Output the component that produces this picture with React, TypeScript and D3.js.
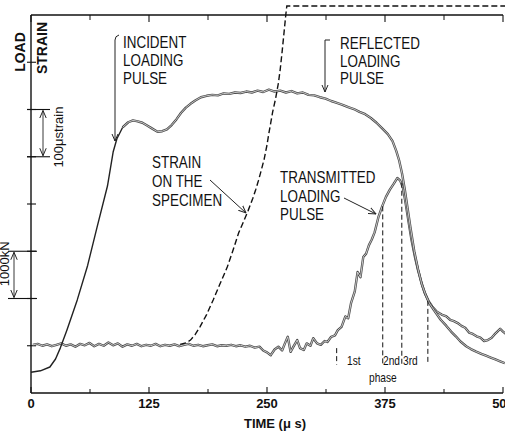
import React from 'react';
import * as d3 from 'd3';

// ---- axis data ----
const xTicksMajor = [0, 125, 250, 375, 500];
const xTickLabels = ['0', '125', '250', '375', '500'];
const xTicksMinor = [62.5, 187.5, 312.5, 437.5];
const yTicks = [1, 2, 3, 4, 5, 6, 7];
const strainBar = [5, 6];
const loadBar = [2, 3];

// ---- incident + reflected loading pulse (time µs, divisions) ----
const incidentT = [0, 10, 20, 26, 31, 38, 49, 60, 70, 81, 87, 91, 97, 103, 108, 113, 118, 123, 128, 134, 139, 144, 149, 154, 159, 164, 169, 174, 180, 186, 192, 198, 204, 210, 216, 222, 228, 234, 240, 246, 252, 258, 264, 270, 276, 282, 288, 294, 300, 306, 312, 318, 324, 330, 336, 342, 348, 354, 360, 366, 372, 378, 383, 387, 390, 393, 396, 399, 402, 406, 410, 414, 418, 422, 427, 434, 440, 445, 450, 455, 461, 466, 471, 477, 482, 487, 492, 497, 502];
const incidentV = [0.44, 0.47, 0.55, 0.72, 0.95, 1.33, 1.97, 2.70, 3.51, 4.38, 5.10, 5.38, 5.62, 5.73, 5.77, 5.75, 5.72, 5.66, 5.60, 5.53, 5.54, 5.58, 5.67, 5.79, 5.93, 6.04, 6.12, 6.19, 6.26, 6.29, 6.31, 6.30, 6.34, 6.33, 6.36, 6.35, 6.38, 6.36, 6.40, 6.37, 6.42, 6.38, 6.40, 6.36, 6.39, 6.34, 6.36, 6.31, 6.30, 6.26, 6.23, 6.18, 6.14, 6.10, 6.05, 6.01, 5.95, 5.90, 5.82, 5.72, 5.60, 5.48, 5.33, 5.12, 4.92, 4.65, 4.30, 3.90, 3.50, 3.00, 2.62, 2.30, 2.08, 1.90, 1.75, 1.55, 1.42, 1.30, 1.20, 1.09, 0.99, 0.93, 0.88, 0.83, 0.79, 0.75, 0.71, 0.67, 0.63];

// ---- transmitted loading pulse ----
const transT = [2, 7, 12, 17, 22, 27, 32, 37, 42, 47, 52, 57, 62, 67, 72, 77, 82, 87, 92, 97, 102, 107, 112, 117, 122, 127, 132, 137, 142, 147, 152, 157, 162, 167, 172, 177, 182, 187, 192, 197, 202, 207, 212, 217, 222, 227, 232, 237, 242, 246, 250, 254, 258, 262, 266, 269, 272, 275, 278, 282, 285, 289, 292, 296, 299, 303, 307, 311, 314, 318, 322, 325, 329, 333, 336, 339, 343, 346, 349, 352, 355, 358, 361, 364, 368, 372, 376, 380, 384, 388, 391, 394, 397, 400, 403, 407, 410, 413, 417, 421, 425, 430, 435, 440, 444, 448, 452, 456, 460, 464, 468, 472, 476, 480, 484, 488, 491, 494, 497, 500, 503];
const transV = [1.02, 1.04, 1.00, 1.03, 0.99, 1.02, 1.05, 1.00, 1.03, 0.98, 1.04, 1.01, 1.06, 0.99, 1.04, 1.00, 1.07, 1.01, 1.05, 0.98, 1.03, 1.00, 1.04, 0.99, 1.02, 1.00, 1.04, 0.99, 1.02, 1.00, 1.03, 0.99, 1.02, 1.04, 1.00, 1.02, 0.99, 1.01, 1.03, 0.99, 1.01, 1.00, 1.02, 0.99, 1.01, 0.98, 1.00, 0.96, 0.98, 0.90, 0.86, 0.80, 0.92, 0.98, 0.90, 1.05, 1.19, 0.87, 0.98, 1.12, 0.95, 0.91, 1.05, 1.00, 1.16, 1.05, 1.02, 1.10, 1.08, 1.19, 1.22, 1.33, 1.40, 1.62, 1.58, 1.90, 2.15, 2.56, 2.45, 2.88, 2.95, 3.13, 3.25, 3.40, 3.72, 3.95, 4.15, 4.30, 4.42, 4.55, 4.50, 4.35, 4.00, 3.62, 3.25, 2.85, 2.60, 2.38, 2.12, 1.95, 1.83, 1.72, 1.66, 1.62, 1.55, 1.52, 1.48, 1.42, 1.38, 1.28, 1.25, 1.20, 1.17, 1.10, 1.12, 1.17, 1.24, 1.30, 1.36, 1.30, 1.25];

// ---- strain on the specimen (dashed) ----
const strainT = [158, 164, 169, 174, 179, 186, 193, 200, 208, 214, 220, 225, 230, 235, 238, 241, 244, 247, 250, 252, 254, 256, 259, 262, 264, 266, 268, 270, 271, 275, 510];
const strainV = [1.03, 1.06, 1.12, 1.24, 1.40, 1.66, 1.97, 2.30, 2.67, 3.02, 3.39, 3.62, 3.86, 4.12, 4.30, 4.50, 4.72, 4.95, 5.25, 5.50, 5.72, 5.95, 6.22, 6.55, 6.85, 7.22, 7.62, 8.02, 8.19, 8.19, 8.19];

// ---- phase boundaries ----
const phaseT = [323.8, 372.6, 392.8, 420.4];
const phaseTop = [0.95, 3.95, 4.45, 1.95];
const phaseBottom = 0.6;

const FONT = '"Liberation Sans", Arial, Helvetica, sans-serif';

export default function App() {
  const x = d3.scaleLinear().domain([0, 500]).range([31, 503]);
  const y = d3.scaleLinear().domain([0, 8]).range([393, 15]);
  const line = d3.line<[number, number]>().x(d => x(d[0])).y(d => y(d[1]));

  const inc: [number, number][] = incidentT.map((t, i) => [t, incidentV[i]]);
  const incRise = inc.filter(d => d[0] <= 103);
  const incRest = inc.filter(d => d[0] >= 97);
  const trans: [number, number][] = transT.map((t, i) => [t, transV[i]]);
  const strain: [number, number][] = strainT.map((t, i) => [t, strainV[i]]);

  const label = (lines: string[], x0: number, y0: number, dy: number) =>
    lines.map((s, i) => (
      <text key={i} transform={`translate(${x0},${y0 + i * dy}) scale(0.84,1)`} fontSize={16} fill="#111">{s}</text>
    ));

  return (
    <svg width={505} height={432} style={{ position: 'absolute', left: 0, top: 0, background: '#fff' }} fontFamily={FONT}>
      <defs>
        <marker id="ah" viewBox="0 0 8 8" refX="7.5" refY="4" markerWidth="8" markerHeight="8" markerUnits="userSpaceOnUse" orient="auto-start-reverse">
          <path d="M0,0.8 L7.5,4 L0,7.2" fill="none" stroke="#222" strokeWidth={1} />
        </marker>
      </defs>

      {/* axes frame */}
      <line x1={x(0)} x2={x(0)} y1={y(8)} y2={y(0)} stroke="#111" strokeWidth={1.4} />
      <line x1={x(0)} x2={x(500)} y1={y(0)} y2={y(0)} stroke="#111" strokeWidth={1.4} />
      <line x1={x(0)} x2={x(500)} y1={y(8)} y2={y(8)} stroke="#111" strokeWidth={1.4} />

      {xTicksMajor.map((t, i) => (
        <g key={'M' + t}>
          <line x1={x(t)} x2={x(t)} y1={y(0)} y2={y(0) - 6} stroke="#111" strokeWidth={1.1} />
          <line x1={x(t)} x2={x(t)} y1={y(8)} y2={y(8) + 7} stroke="#111" strokeWidth={1.1} />
          <text x={x(t)} y={408} textAnchor="middle" fontSize={13} fontWeight="bold" fill="#111">{xTickLabels[i]}</text>
        </g>
      ))}
      {xTicksMinor.map(t => (
        <g key={'m' + t}>
          <line x1={x(t)} x2={x(t)} y1={y(0)} y2={y(0) - 4} stroke="#111" strokeWidth={1} />
          <line x1={x(t)} x2={x(t)} y1={y(8)} y2={y(8) + 5} stroke="#111" strokeWidth={1} />
        </g>
      ))}
      {yTicks.map(v => (
        <line key={'y' + v} x1={x(0) - 4} x2={x(0) + 5} y1={y(v)} y2={y(v)} stroke="#111" strokeWidth={1.1} />
      ))}

      <text x={275} y={428} textAnchor="middle" fontSize={13} fontWeight="bold" fill="#111">TIME (μ s)</text>
      <text transform={`translate(25,52) rotate(-90)`} textAnchor="middle" fontSize={14} fontWeight="bold" fill="#111">LOAD</text>
      <text transform={`translate(47,48) rotate(-90)`} textAnchor="middle" fontSize={14} fontWeight="bold" fill="#111">STRAIN</text>

      {/* 100 µstrain scale bar */}
      {strainBar.map(v => (
        <line key={'sb' + v} x1={27} x2={50} y1={y(v)} y2={y(v)} stroke="#111" strokeWidth={1.1} />
      ))}
      <line x1={43} x2={43} y1={y(strainBar[1]) + 1} y2={y(strainBar[0]) - 1} stroke="#222" strokeWidth={0.9} markerStart="url(#ah)" markerEnd="url(#ah)" />
      <text transform={`translate(63,${(y(strainBar[0]) + y(strainBar[1])) / 2 + 4}) rotate(-90)`} textAnchor="middle" fontSize={13} fill="#111">100μstrain</text>

      {/* 1000 kN scale bar */}
      {loadBar.map(v => (
        <line key={'lb' + v} x1={8} x2={37} y1={y(v)} y2={y(v)} stroke="#111" strokeWidth={1.1} />
      ))}
      <line x1={14} x2={14} y1={y(loadBar[1]) + 1} y2={y(loadBar[0]) - 1} stroke="#222" strokeWidth={0.9} markerStart="url(#ah)" markerEnd="url(#ah)" />
      <text transform={`translate(9,${(y(loadBar[0]) + y(loadBar[1])) / 2 - 11}) rotate(-90)`} textAnchor="middle" fontSize={13} fill="#111">1000kN</text>

      {/* curves */}
      <path d={line(trans) || ''} fill="none" stroke="#4a4a4a" strokeWidth={2.4} strokeLinejoin="round" />
      <path d={line(trans) || ''} fill="none" stroke="#e6e6e6" strokeWidth={0.8} strokeLinejoin="round" />
      <path d={line(incRise) || ''} fill="none" stroke="#222" strokeWidth={1.4} strokeLinejoin="round" />
      <path d={line(incRest) || ''} fill="none" stroke="#4a4a4a" strokeWidth={2.4} strokeLinejoin="round" />
      <path d={line(incRest) || ''} fill="none" stroke="#e6e6e6" strokeWidth={0.8} strokeLinejoin="round" />
      <path d={line(strain) || ''} fill="none" stroke="#111" strokeWidth={1.4} strokeDasharray="6,3" />

      {/* phase lines */}
      {phaseT.map((t, i) => (
        <line key={'p' + i} x1={x(t)} x2={x(t)} y1={y(phaseTop[i])} y2={y(phaseBottom)} stroke="#111" strokeWidth={1} strokeDasharray="5,3" />
      ))}
      <text transform="translate(347,365) scale(0.85,1)" fontSize={12} fill="#111">1st</text>
      <text transform="translate(383,365) scale(0.85,1)" fontSize={12} fill="#111">2nd</text>
      <text transform="translate(403,365) scale(0.85,1)" fontSize={12} fill="#111">3rd</text>
      <text transform="translate(369,382) scale(0.85,1)" fontSize={12} fill="#111">phase</text>

      {/* annotations */}
      {label(['INCIDENT', 'LOADING', 'PULSE'], 123, 48, 18)}
      {label(['REFLECTED', 'LOADING', 'PULSE'], 340, 49, 17.5)}
      {label(['STRAIN', 'ON THE', 'SPECIMEN'], 152, 168, 19)}
      {label(['TRANSMITTED', 'LOADING', 'PULSE'], 280, 183, 18.5)}

      <path d="M119,35 Q115,36 115,40 L115,141" fill="none" stroke="#222" strokeWidth={1} markerEnd="url(#ah)" />
      <path d="M330,40 L325,40 L325,92" fill="none" stroke="#222" strokeWidth={1} markerEnd="url(#ah)" />
      <path d="M210,180 L246,213" fill="none" stroke="#222" strokeWidth={1} markerEnd="url(#ah)" />
      <path d="M344,198 L376,214" fill="none" stroke="#222" strokeWidth={1} markerEnd="url(#ah)" />
    </svg>
  );
}
